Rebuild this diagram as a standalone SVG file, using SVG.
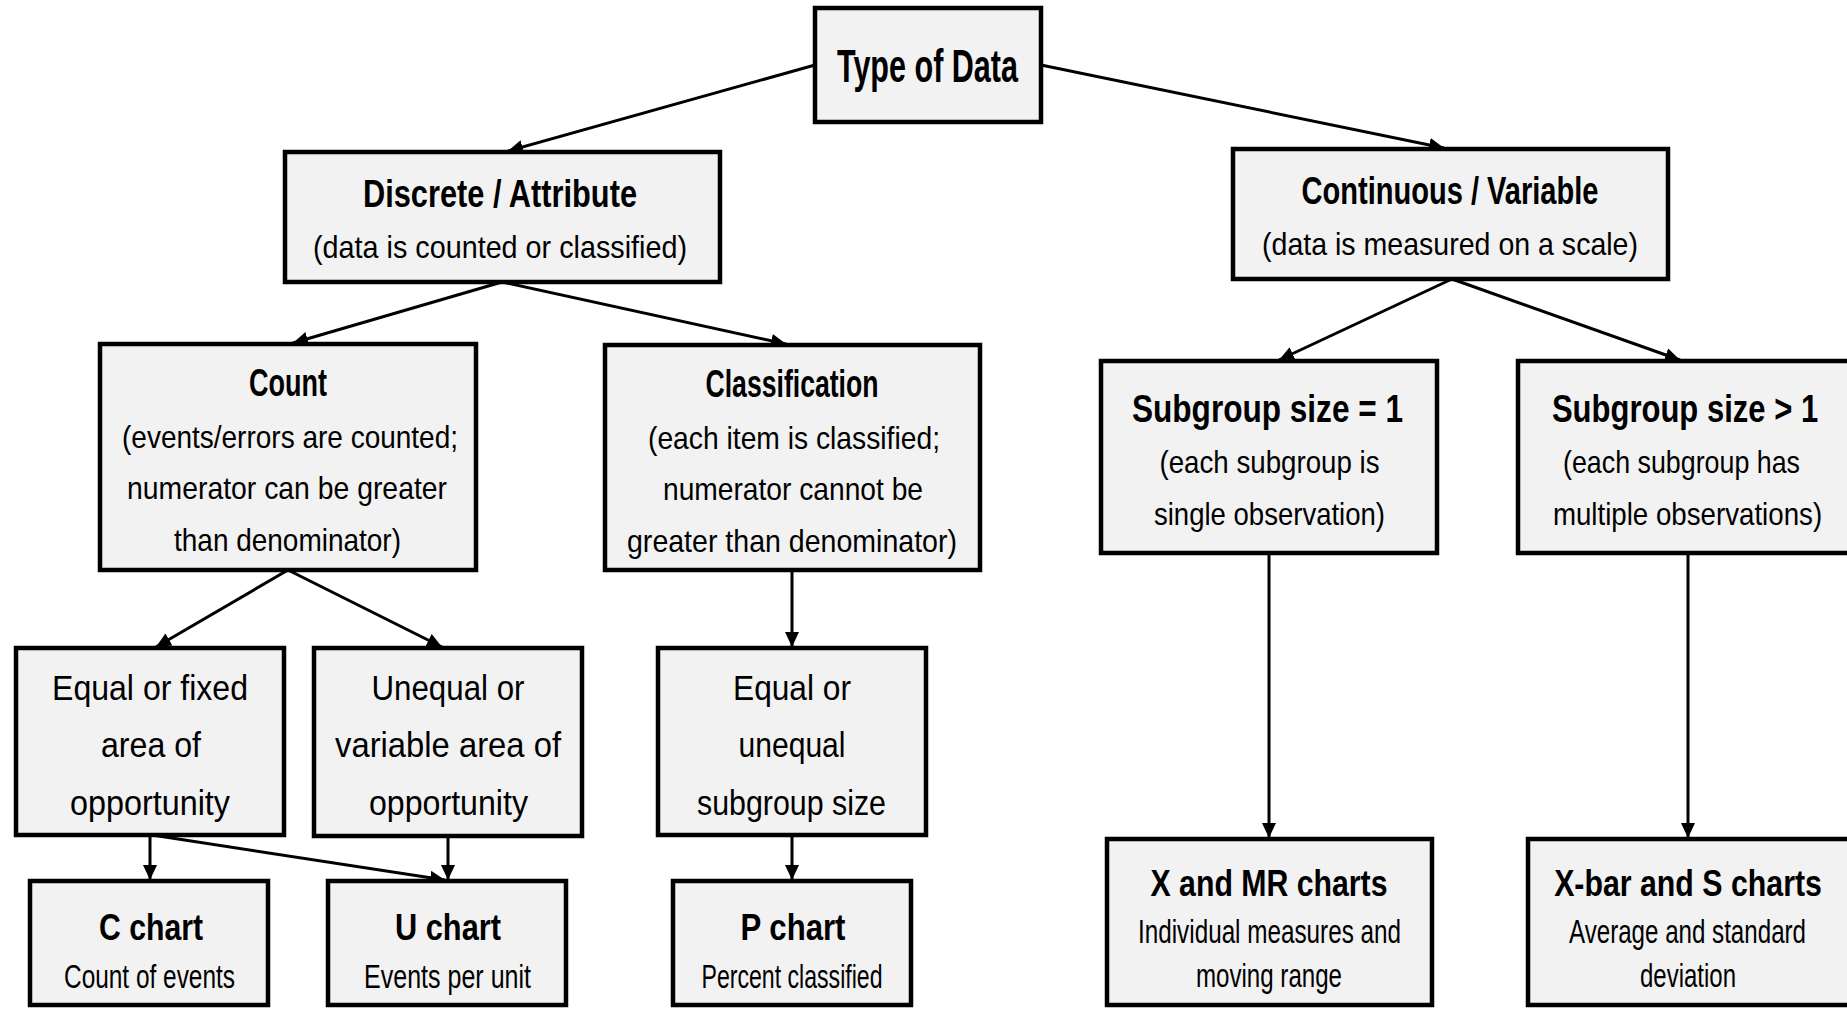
<svg xmlns="http://www.w3.org/2000/svg" width="1847" height="1009" viewBox="0 0 1847 1009">
<style>
  .box { fill: #f2f2f2; stroke: #000; stroke-width: 4.5; }
  .b { font-family: "Liberation Sans Narrow", "Liberation Sans", Arial, sans-serif; font-weight: bold; fill: #000; text-anchor: middle; }
  .r { font-family: "Liberation Sans Narrow", "Liberation Sans", Arial, sans-serif; fill: #000; text-anchor: middle; }
  .t { font-size: 46px; }
  .h { font-size: 39px; }
  .s { font-size: 32px; }
  .m { font-size: 35px; }
  .ch { font-size: 37px; }
  .cs { font-size: 33px; }
  .conn line { stroke: #000; stroke-width: 3; marker-end: url(#arr); }
</style>
<defs>
  <marker id="arr" markerUnits="userSpaceOnUse" markerWidth="16" markerHeight="14" refX="15" refY="7" orient="auto">
    <path d="M0,0 L15,7 L0,14 z" fill="#000"/>
  </marker>
</defs>
<rect width="1847" height="1009" fill="#fff"/>

<g id="connectors" class="conn">
  <line x1="815" y1="65" x2="508" y2="151"/>
  <line x1="1041" y1="65" x2="1444" y2="148"/>
  <line x1="502" y1="282" x2="293" y2="343"/>
  <line x1="502" y1="282" x2="786" y2="344"/>
  <line x1="1452" y1="279" x2="1279" y2="360"/>
  <line x1="1452" y1="279" x2="1680" y2="360"/>
  <line x1="288" y1="570" x2="156" y2="647"/>
  <line x1="288" y1="570" x2="442" y2="647"/>
  <line x1="792" y1="570" x2="792" y2="647"/>
  <line x1="150" y1="835" x2="150" y2="880"/>
  <line x1="152" y1="835" x2="445" y2="880"/>
  <line x1="448" y1="836" x2="448" y2="880"/>
  <line x1="792" y1="835" x2="792" y2="880"/>
  <line x1="1269" y1="553" x2="1269" y2="838"/>
  <line x1="1688" y1="553" x2="1688" y2="838"/>
</g>

<g id="type-of-data">
  <rect class="box" x="815" y="8" width="226" height="114"/>
  <text class="b t" x="927.5" y="82" textLength="181" lengthAdjust="spacingAndGlyphs">Type of Data</text>
</g>

<g id="discrete">
  <rect class="box" x="285" y="152" width="435" height="130"/>
  <text class="b h" x="500" y="207" textLength="274" lengthAdjust="spacingAndGlyphs">Discrete / Attribute</text>
  <text class="r s" x="500" y="258" textLength="374" lengthAdjust="spacingAndGlyphs">(data is counted or classified)</text>
</g>

<g id="continuous">
  <rect class="box" x="1233" y="149" width="435" height="130"/>
  <text class="b h" x="1450" y="204" textLength="297" lengthAdjust="spacingAndGlyphs">Continuous / Variable</text>
  <text class="r s" x="1450" y="255" textLength="376" lengthAdjust="spacingAndGlyphs">(data is measured on a scale)</text>
</g>

<g id="count">
  <rect class="box" x="100" y="344" width="376" height="226"/>
  <text class="b h" x="288" y="396" textLength="78" lengthAdjust="spacingAndGlyphs">Count</text>
  <text class="r s" x="290" y="448" textLength="336" lengthAdjust="spacingAndGlyphs">(events/errors are counted;</text>
  <text class="r s" x="287" y="499" textLength="320" lengthAdjust="spacingAndGlyphs">numerator can be greater</text>
  <text class="r s" x="287.5" y="551" textLength="227" lengthAdjust="spacingAndGlyphs">than denominator)</text>
</g>

<g id="classification">
  <rect class="box" x="605" y="345" width="375" height="225"/>
  <text class="b h" x="792" y="397" textLength="173" lengthAdjust="spacingAndGlyphs">Classification</text>
  <text class="r s" x="794" y="449" textLength="292" lengthAdjust="spacingAndGlyphs">(each item is classified;</text>
  <text class="r s" x="793" y="500" textLength="260" lengthAdjust="spacingAndGlyphs">numerator cannot be</text>
  <text class="r s" x="792" y="552" textLength="330" lengthAdjust="spacingAndGlyphs">greater than denominator)</text>
</g>

<g id="subgroup-eq-1">
  <rect class="box" x="1101" y="361" width="336" height="192"/>
  <text class="b h" x="1267.5" y="422" textLength="271" lengthAdjust="spacingAndGlyphs">Subgroup size = 1</text>
  <text class="r s" x="1269.5" y="473" textLength="220" lengthAdjust="spacingAndGlyphs">(each subgroup is</text>
  <text class="r s" x="1269.5" y="525" textLength="231" lengthAdjust="spacingAndGlyphs">single observation)</text>
</g>

<g id="subgroup-gt-1">
  <rect class="box" x="1518" y="361" width="342" height="192"/>
  <text class="b h" transform="translate(1685,422) scale(0.75,1)" x="0" y="0" textLength="355" lengthAdjust="spacingAndGlyphs">Subgroup size &gt; 1</text>
  <text class="r s" transform="translate(1681.5,473) scale(0.75,1)" x="0" y="0" textLength="316" lengthAdjust="spacingAndGlyphs">(each subgroup has</text>
  <text class="r s" transform="translate(1687.5,525) scale(0.75,1)" x="0" y="0" textLength="359" lengthAdjust="spacingAndGlyphs">multiple observations)</text>
</g>

<g id="equal-fixed">
  <rect class="box" x="16" y="648" width="268" height="187"/>
  <text class="r m" x="150" y="700" textLength="196" lengthAdjust="spacingAndGlyphs">Equal or fixed</text>
  <text class="r m" x="151" y="757" textLength="100" lengthAdjust="spacingAndGlyphs">area of</text>
  <text class="r m" x="150" y="815" textLength="160" lengthAdjust="spacingAndGlyphs">opportunity</text>
</g>

<g id="unequal-variable">
  <rect class="box" x="314" y="648" width="268" height="188"/>
  <text class="r m" x="448" y="700" textLength="153" lengthAdjust="spacingAndGlyphs">Unequal or</text>
  <text class="r m" x="448" y="757" textLength="226" lengthAdjust="spacingAndGlyphs">variable area of</text>
  <text class="r m" x="448.5" y="815" textLength="159" lengthAdjust="spacingAndGlyphs">opportunity</text>
</g>

<g id="equal-unequal-subgroup">
  <rect class="box" x="658" y="648" width="268" height="187"/>
  <text class="r m" x="792" y="700" textLength="118" lengthAdjust="spacingAndGlyphs">Equal or</text>
  <text class="r m" x="792" y="757" textLength="107" lengthAdjust="spacingAndGlyphs">unequal</text>
  <text class="r m" x="791.5" y="815" textLength="189" lengthAdjust="spacingAndGlyphs">subgroup size</text>
</g>

<g id="c-chart">
  <rect class="box" x="30" y="881" width="238" height="124"/>
  <text class="b ch" x="151" y="940" textLength="104" lengthAdjust="spacingAndGlyphs">C chart</text>
  <text class="r cs" x="149.5" y="988" textLength="171" lengthAdjust="spacingAndGlyphs">Count of events</text>
</g>

<g id="u-chart">
  <rect class="box" x="328" y="881" width="238" height="124"/>
  <text class="b ch" x="448" y="940" textLength="106" lengthAdjust="spacingAndGlyphs">U chart</text>
  <text class="r cs" x="447.5" y="988" textLength="167" lengthAdjust="spacingAndGlyphs">Events per unit</text>
</g>

<g id="p-chart">
  <rect class="box" x="673" y="881" width="238" height="124"/>
  <text class="b ch" x="793" y="940" textLength="105" lengthAdjust="spacingAndGlyphs">P chart</text>
  <text class="r cs" x="792" y="988" textLength="181" lengthAdjust="spacingAndGlyphs">Percent classified</text>
</g>

<g id="x-mr-charts">
  <rect class="box" x="1107" y="839" width="325" height="166"/>
  <text class="b ch" x="1269" y="896" textLength="237" lengthAdjust="spacingAndGlyphs">X and MR charts</text>
  <text class="r cs" x="1269.5" y="943" textLength="263" lengthAdjust="spacingAndGlyphs">Individual measures and</text>
  <text class="r cs" x="1269" y="987" textLength="146" lengthAdjust="spacingAndGlyphs">moving range</text>
</g>

<g id="xbar-s-charts">
  <rect class="box" x="1528" y="839" width="330" height="166"/>
  <text class="b ch" transform="translate(1688,896) scale(0.75,1)" x="0" y="0" textLength="357" lengthAdjust="spacingAndGlyphs">X-bar and S charts</text>
  <text class="r cs" transform="translate(1687.5,943) scale(0.75,1)" x="0" y="0" textLength="316" lengthAdjust="spacingAndGlyphs">Average and standard</text>
  <text class="r cs" transform="translate(1688,987) scale(0.75,1)" x="0" y="0" textLength="128" lengthAdjust="spacingAndGlyphs">deviation</text>
</g>
</svg>
